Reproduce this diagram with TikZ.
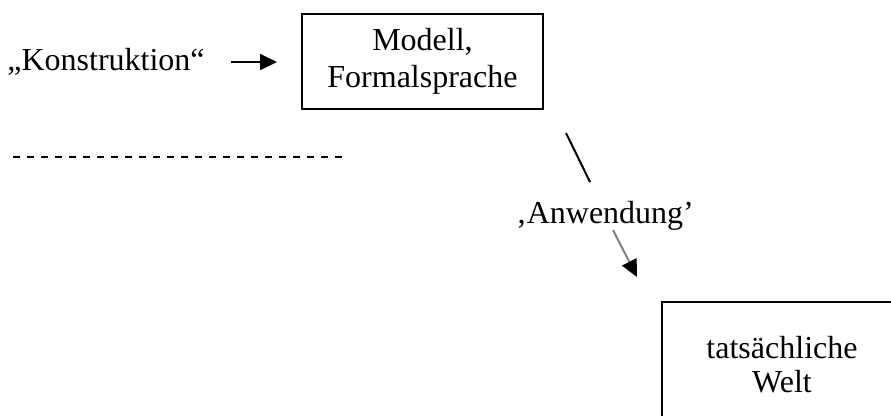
\documentclass[tikz,border=0pt]{standalone}
\usepackage{fontspec}
\setmainfont{Liberation Serif}
\usetikzlibrary{arrows.meta}
\begin{document}
\begin{tikzpicture}[x=0.4pt,y=-0.4pt,
  line width=0.8pt,
  box node/.style={rectangle,draw,align=center,inner sep=0pt,font=\fontsize{12.8}{14.8}\selectfont},
  label node/.style={anchor=base,inner sep=0pt,font=\fontsize{12.8}{14.8}\selectfont},
  arrow head/.style={-{Triangle[length=6.8pt,width=6.4pt,color=black]}}]

  \clip (0,0) rectangle (891,415);

  \node[label node] (konstruktion) at (106,70) {„Konstruktion“};
  \node[box node,minimum width=96.4pt,minimum height=38pt] (modell) at (422.5,61.5) {Modell,\\Formalsprache};
  \node[label node] (anwendung) at (605,223) {‚Anwendung’};
  \node[box node,minimum width=96pt,minimum height=50.4pt,
    font=\fontsize{12.8}{13.6}\selectfont] (welt) at (782,365) {tatsächliche\\Welt};

  \coordinate (k1) at (231,62);
  \coordinate (k2) at (277,62);
  \coordinate (s1) at (566,133);
  \coordinate (s2) at (590,182);
  \coordinate (a1) at (613,230);
  \coordinate (a2) at (637,277);
  \coordinate (d1) at (13,157);
  \coordinate (d2) at (343,157);

  \path (k1) edge[arrow head] (k2)
   (s1) edge (s2)
   (a1) edge[arrow head,draw=gray] (a2)
   (d1) edge[dash pattern=on 2.8pt off 2.8pt] (d2);
\end{tikzpicture}
\end{document}
